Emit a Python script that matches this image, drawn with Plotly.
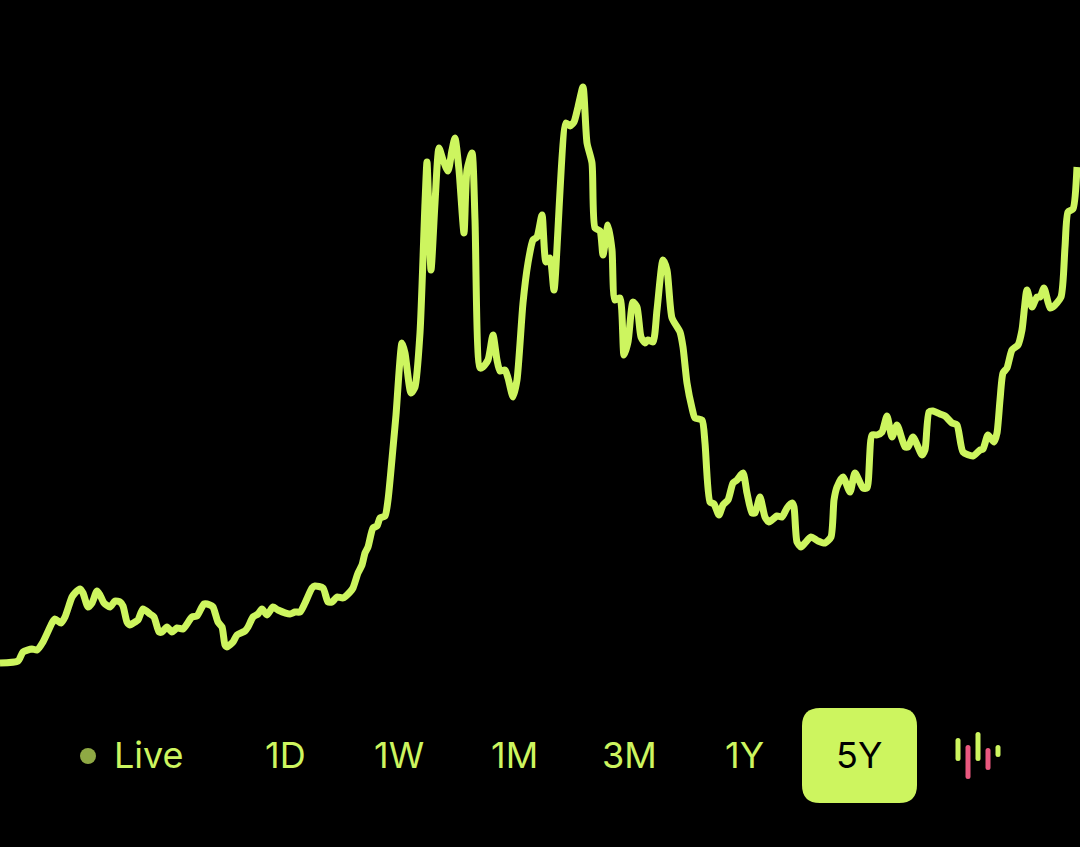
import plotly.graph_objects as go

# Horizontal position along the time axis and the value
time_pos = [0,18,23,32,37,43,52,55,61,65,72,75,80,83,88,92,97,100,104,110,115,120,123,127,130,135,138,143,150,154,159,162,167,172,177,183,192,197,204,210,213,218,222,225,227,233,237,245,248,253,258,262,267,273,278,290,295,300,305,312,315,323,328,332,337,343,350,353,358,362,365,368,373,377,380,385,388,393,396,402,405,411,415,420,425,427,431,435,439,443,448,452,455,459,464,467,472,475,480,483,488,493,497,500,505,508,513,517,523,528,533,537,542,546,550,554,566,570,574,578,583,587,592,595,600,603,608,612,615,620,624,628,633,637,641,645,648,653,657,663,667,672,680,683,687,692,695,702,705,710,714,719,723,728,733,737,743,747,752,755,760,765,769,777,782,787,792,794,797,801,805,811,818,825,831,834,837,843,850,855,863,867,872,877,882,887,892,897,905,908,913,922,925,929,933,940,945,952,957,963,973,980,983,988,994,997,1000,1003,1007,1012,1018,1022,1027,1032,1037,1040,1044,1050,1053,1061,1065,1068,1073,1077]
# Value = height above the bottom of the frame
pixel_read = [663,661,652,649,650,642,623,619,623,617,597,593,589,593,607,603,591,595,603,607,601,602,606,622,625,622,620,609,614,617,632,632,627,632,628,629,617,616,604,605,607,622,627,645,647,642,635,631,627,617,614,609,615,607,610,614,612,612,603,588,586,588,602,602,597,598,592,588,573,565,553,547,528,526,518,516,500,448,415,343,353,393,387,333,203,162,270,203,148,160,171,150,138,170,233,170,153,220,368,367,360,335,360,371,370,378,397,380,303,263,240,237,215,262,258,290,123,126,122,107,87,143,163,228,231,255,225,250,300,298,355,342,302,307,337,343,340,342,310,260,270,318,332,347,383,408,418,420,443,502,504,515,505,500,483,480,473,493,513,513,497,517,522,516,517,508,503,507,542,547,543,537,541,543,537,500,487,477,492,473,488,488,435,435,432,416,437,425,447,447,437,455,450,412,411,414,416,423,425,452,456,450,449,435,442,433,400,373,368,350,345,330,290,307,297,297,288,308,307,297,247,212,209,167]
values = [847 - p for p in pixel_read]

live_label = "Live"
ranges = ["1D", "1W", "1M", "3M", "1Y", "5Y"]
range_centres = [285, 399, 514, 629, 744, 859]
selected = "5Y"

LIME = "#CDF55F"
PINK = "#E9587F"
FONT = "Inter, 'Liberation Sans', sans-serif"

fig = go.Figure(go.Scatter(
    x=time_pos, y=values, mode="lines",
    line=dict(color=LIME, width=7, shape="spline", smoothing=0.6),
    hoverinfo="skip", cliponaxis=True,
))

def pill(x, y0, y1, col, r=2.5):
    return dict(type="path", xref="x", yref="y2", fillcolor=col, line=dict(width=0),
                path=f"M {x-r} {y0+r} Q {x-r} {y0} {x} {y0} Q {x+r} {y0} {x+r} {y0+r} "
                     f"L {x+r} {y1-r} Q {x+r} {y1} {x} {y1} Q {x-r} {y1} {x-r} {y1-r} Z")

shapes = [
    dict(type="path", layer="below", fillcolor=LIME, line=dict(width=0),
         path="M 820 708 L 899 708 Q 917 708 917 726 L 917 785 Q 917 803 899 803 "
              "L 820 803 Q 802 803 802 785 L 802 726 Q 802 708 820 708 Z",
         xref="x", yref="y2"),
    dict(type="circle", xref="x", yref="y2", x0=80, x1=96, y0=748, y1=764,
         fillcolor="#8FA944", line=dict(width=0)),
]
for x, y0, y1, col in [(958, 738, 761, LIME), (968, 745, 779, PINK), (978, 732, 761, LIME),
                       (988, 748, 770, PINK), (998, 745, 757, LIME)]:
    shapes.append(pill(x, y0, y1, col))

annotations = [dict(x=149, y=755, xref="x", yref="y2", text=live_label, showarrow=False,
                    font=dict(family=FONT, size=36, color=LIME))]
for label, cx in zip(ranges, range_centres):
    annotations.append(dict(x=cx, y=755, xref="x", yref="y2", text=label, showarrow=False,
                            font=dict(family=FONT, size=36, color="#000000" if label == selected else LIME)))

fig.update_layout(
    width=1080, height=847, margin=dict(l=0, r=0, t=0, b=0),
    paper_bgcolor="#000000", plot_bgcolor="#000000", showlegend=False,
    xaxis=dict(range=[0, 1080], visible=False, fixedrange=True),
    yaxis=dict(range=[0, 847], visible=False, fixedrange=True),
    yaxis2=dict(range=[847, 0], visible=False, overlaying="y", fixedrange=True),
    shapes=shapes, annotations=annotations,
)
fig.write_html("out.html", post_script="document.body.style.margin='0';document.body.style.background='#000';document.body.style.overflow='hidden';", config={"displayModeBar": False})
